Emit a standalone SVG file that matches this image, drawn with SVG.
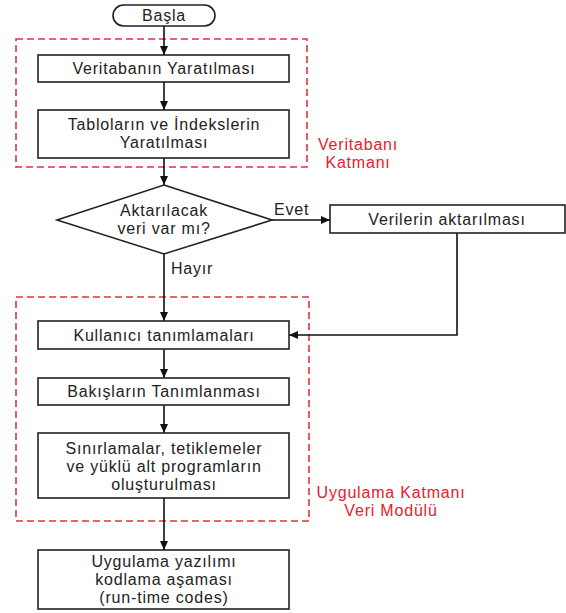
<svg xmlns="http://www.w3.org/2000/svg" width="566" height="613" viewBox="0 0 566 613">
<defs>
<marker id="arr" markerWidth="10" markerHeight="10" refX="9" refY="5" orient="auto" markerUnits="userSpaceOnUse">
<path d="M0,1 L9,5 L0,9 Z" fill="#111"/>
</marker>
<style>
.box{fill:#fff;stroke:#222;stroke-width:1.6}
.t{font-family:"Liberation Sans",Arial,sans-serif;font-size:16px;letter-spacing:0.8px;fill:#222;text-anchor:middle}
.lbl{font-family:"Liberation Sans",Arial,sans-serif;font-size:16px;letter-spacing:0.8px;fill:#222}
.red{font-family:"Liberation Sans",Arial,sans-serif;font-size:16px;letter-spacing:0.8px;fill:#e8202c;text-anchor:middle}
.grp{fill:none;stroke:#e2323c;stroke-width:1.6;stroke-dasharray:7 4}
.c{fill:none;stroke:#111;stroke-width:1.6;marker-end:url(#arr)}
</style>
</defs>
<rect width="566" height="613" fill="#fff"/>
<g id="groups">
<rect class="grp" x="16" y="39" width="291" height="128"/>
<text class="red" x="358" y="150">Veritabanı</text>
<text class="red" x="358" y="168">Katmanı</text>
<rect class="grp" x="16" y="297" width="293" height="224"/>
<text class="red" x="391" y="498">Uygulama Katmanı</text>
<text class="red" x="391" y="516">Veri Modülü</text>
</g>
<g id="connectors">
<line class="c" x1="164" y1="26" x2="164" y2="55"/>
<line class="c" x1="164" y1="82" x2="164" y2="110"/>
<line class="c" x1="164" y1="158" x2="164" y2="185"/>
<line class="c" x1="272" y1="220" x2="330" y2="220"/>
<text class="lbl" x="274" y="215">Evet</text>
<line class="c" x1="164" y1="254" x2="164" y2="321"/>
<text class="lbl" x="171" y="274">Hayır</text>
<polyline class="c" points="457,233 457,335 289,335"/>
<line class="c" x1="164" y1="349" x2="164" y2="378"/>
<line class="c" x1="164" y1="405" x2="164" y2="433"/>
<line class="c" x1="164" y1="498" x2="164" y2="550"/>
</g>
<g id="start">
<rect class="box" x="113" y="5" width="102" height="21" rx="10.5"/>
<text class="t" x="164" y="21">Başla</text>
</g>
<g id="n1">
<rect class="box" x="38" y="55" width="251" height="27"/>
<text class="t" x="164" y="74">Veritabanın Yaratılması</text>
</g>
<g id="n2">
<rect class="box" x="38" y="110" width="251" height="48"/>
<text class="t" x="164" y="130">Tabloların ve İndekslerin</text>
<text class="t" x="164" y="148">Yaratılması</text>
</g>
<g id="decision">
<polygon class="box" points="164,185 272,220 164,254 57,220"/>
<text class="t" x="164" y="216">Aktarılacak</text>
<text class="t" x="164" y="234">veri var mı?</text>
</g>
<g id="n3">
<rect class="box" x="330" y="205" width="235" height="28"/>
<text class="t" x="447" y="225">Verilerin aktarılması</text>
</g>
<g id="n4">
<rect class="box" x="38" y="321" width="251" height="28"/>
<text class="t" x="164" y="341">Kullanıcı tanımlamaları</text>
</g>
<g id="n5">
<rect class="box" x="38" y="378" width="251" height="27"/>
<text class="t" x="164" y="397">Bakışların Tanımlanması</text>
</g>
<g id="n6">
<rect class="box" x="38" y="433" width="251" height="65"/>
<text class="t" x="164" y="454">Sınırlamalar, tetiklemeler</text>
<text class="t" x="164" y="472">ve yüklü alt programların</text>
<text class="t" x="164" y="490">oluşturulması</text>
</g>
<g id="n7">
<rect class="box" x="38" y="550" width="251" height="59"/>
<text class="t" x="164" y="567">Uygulama yazılımı</text>
<text class="t" x="164" y="585">kodlama aşaması</text>
<text class="t" x="164" y="603">(run-time codes)</text>
</g>
</svg>
